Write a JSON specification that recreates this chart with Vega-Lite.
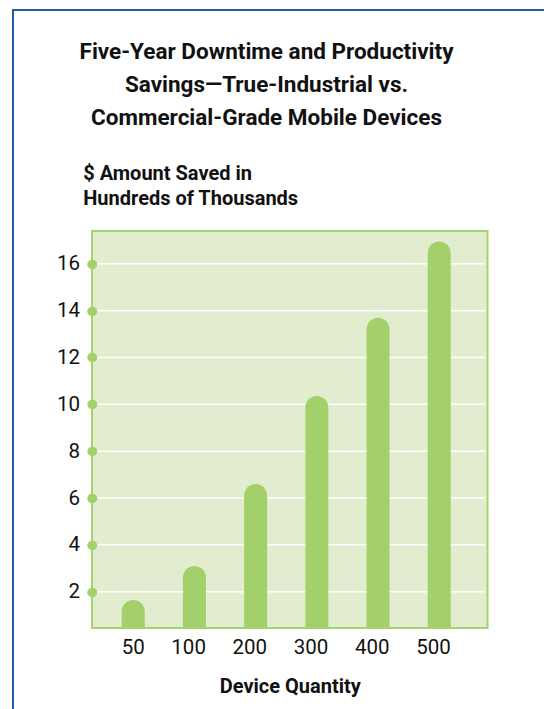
{
  "$schema": "https://vega.github.io/schema/vega-lite/v6.json",
  "width": 531,
  "height": 699,
  "autosize": {"type": "none"},
  "padding": {"left": 13, "top": 10, "right": 0, "bottom": 0},
  "background": "white",
  "config": {
    "font": "Roboto",
    "view": {"stroke": "#1f5fa8", "strokeWidth": 2, "strokeDash": [531, 1230, 699], "fill": null}
  },
  "title": {
    "text": ["Five-Year Downtime and Productivity", "Savings—True-Industrial vs.", "Commercial-Grade Mobile Devices"],
    "anchor": "middle",
    "frame": "group",
    "fontSize": 22.5,
    "fontWeight": "bold",
    "lineHeight": 33,
    "baseline": "alphabetic",
    "offset": -137,
    "dx": -12,
    "color": "#111111"
  },
  "datasets": {
    "bars": [
      {"qty": 50, "val": 1.65},
      {"qty": 100, "val": 3.1},
      {"qty": 200, "val": 6.6},
      {"qty": 300, "val": 10.35},
      {"qty": 400, "val": 13.7},
      {"qty": 500, "val": 16.95}
    ],
    "grid": [{"v": 2}, {"v": 4}, {"v": 6}, {"v": 8}, {"v": 10}, {"v": 12}, {"v": 14}, {"v": 16}],
    "frame": [{}]
  },
  "layer": [
    {
      "data": {"name": "frame"},
      "mark": {"type": "rect", "fill": "#e1edce"},
      "encoding": {
        "x": {"datum": 50, "type": "ordinal", "bandPosition": -1.291},
        "x2": {"datum": 500, "bandPosition": 2.599},
        "y": {"datum": 17.4, "type": "quantitative"},
        "y2": {"datum": 0.45}
      }
    },
    {
      "data": {"name": "grid"},
      "mark": {"type": "rule", "color": "#ffffff", "strokeWidth": 1.5},
      "encoding": {
        "x": {"datum": 50, "type": "ordinal", "bandPosition": -1.291},
        "x2": {"datum": 500, "bandPosition": 2.49},
        "y": {"field": "v", "type": "quantitative"}
      }
    },
    {
      "data": {"name": "bars"},
      "mark": {"type": "bar", "color": "#a3d06a", "cornerRadiusTopLeft": 11.5, "cornerRadiusTopRight": 11.5},
      "encoding": {
        "x": {
          "field": "qty",
          "type": "ordinal",
          "scale": {"type": "band", "range": [79, 474.5], "paddingInner": 0.624, "paddingOuter": 0.543, "align": 0.447},
          "axis": {
            "title": "Device Quantity",
            "domain": false,
            "ticks": false,
            "tickSize": 0,
            "grid": false,
            "labelAngle": 0,
            "labelFontSize": 20.5,
            "labelPadding": 19,
            "labelOffset": 11.5,
            "labelColor": "#111111",
            "offset": -81,
            "titleFontSize": 20,
            "titleFontWeight": "bold",
            "titleColor": "#111111",
            "titleY": 64,
            "titleBaseline": "alphabetic"
          }
        },
        "y": {
          "field": "val",
          "type": "quantitative",
          "scale": {"domain": [0.45, 17.4], "range": [618, 221], "nice": false, "zero": false, "clamp": true},
          "axis": {
            "title": ["$ Amount Saved in", "Hundreds of Thousands"],
            "values": [2, 4, 6, 8, 10, 12, 14, 16],
            "offset": -79,
            "domain": false,
            "grid": false,
            "tickSize": 0.5,
            "tickWidth": 9.5,
            "tickCap": "round",
            "tickColor": "#a3d06a",
            "labelFontSize": 20.5,
            "labelPadding": 12,
            "labelColor": "#111111",
            "titleAngle": 0,
            "titleAlign": "left",
            "titleBaseline": "alphabetic",
            "titleX": -9.3,
            "titleY": 169,
            "titleFontSize": 20,
            "titleFontWeight": "bold",
            "titleColor": "#111111",
            "titleLineHeight": 25,
            "zindex": 1
          }
        },
        "y2": {"datum": 0.45}
      }
    },
    {
      "data": {"name": "frame"},
      "mark": {"type": "rect", "fill": null, "stroke": "#a5d46e", "strokeWidth": 2},
      "encoding": {
        "x": {"datum": 50, "type": "ordinal", "bandPosition": -1.291},
        "x2": {"datum": 500, "bandPosition": 2.599},
        "y": {"datum": 17.4, "type": "quantitative"},
        "y2": {"datum": 0.45}
      }
    }
  ]
}
